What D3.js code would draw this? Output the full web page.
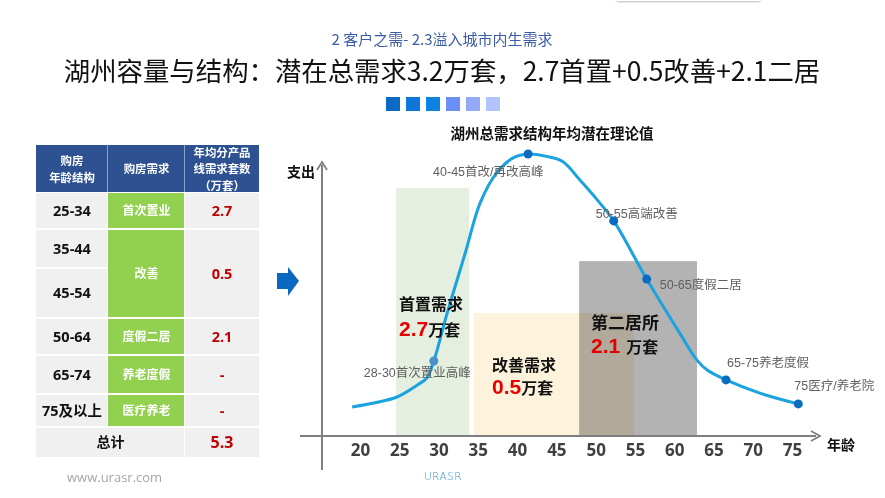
<!DOCTYPE html>
<html>
<head>
<meta charset="utf-8">
<script src="https://cdn.jsdelivr.net/npm/d3@7"></script>
<style>
	body { margin: 0; background: #fff; }
	svg { display: block; font-family: "Noto Sans CJK SC", "Noto Sans", sans-serif; }
</style>
</head>
<body>
<svg class="chart" width="885" height="498"></svg>
<script>
//curve data: age vs relative spending
let curveAges  = [19, 24.7, 27.3, 28.5, 29.4, 31.1, 33.4, 35.3, 37.4, 39.5, 41.4, 43.6, 45.8, 48.0, 50.2, 52.3, 56.5, 60.7, 62.9, 64.2, 66.6, 70.9, 75.8];
let curveSpend = [9.7, 13, 17, 19.3, 25, 41, 61, 77.7, 87.7, 92.7, 94, 93.3, 91.5, 85.3, 78.7, 71.7, 52.3, 34.3, 25.3, 22, 18.7, 14.3, 10.7];

//milestone dots
let milestoneAges   = [29.4, 41.4, 52.3, 56.5, 66.6, 75.8];
let milestoneSpend  = [25, 94, 71.7, 52.3, 18.7, 10.7];
let milestoneLabels = ["28-30首次置业高峰", "40-45首改/再改高峰", "50-55高端改善", "50-65度假二居", "65-75养老度假", "75医疗/养老院"];

//demand zones
let zoneNames  = ["首置需求", "改善需求", "第二居所"];
let zoneValues = ["2.7", "0.5", "2.1"];
let zoneFrom   = [24.6, 34.5, 47.9];
let zoneTo     = [33.9, 54.9, 62.9];
let zoneHeight = [82.7, 41, 58.3];

let xTicks = [20, 25, 30, 35, 40, 45, 50, 55, 60, 65, 70, 75];

//table
let tableHeaders = [["购房", "年龄结构"], ["购房需求"], ["年均分产品", "线需求套数", "（万套）"]];
let ageGroups    = ["25-34", "35-44", "45-54", "50-64", "65-74", "75及以上"];
let demandTypes  = ["首次置业", "改善", "度假二居", "养老度假", "医疗养老"];
let demandSpans  = [1, 2, 1, 1, 1];
let demandValues = ["2.7", "0.5", "2.1", "-", "-"];
let totalValue   = "5.3";

let svg = d3.select(".chart");

//top-right shadow tab
svg.append("defs").append("filter").attr("id", "sh")
	.append("feDropShadow").attr("dx", 0).attr("dy", 1).attr("stdDeviation", 1.2).attr("flood-color", "#888").attr("flood-opacity", 0.6);
svg.append("rect").attr("x", 617).attr("y", -12).attr("width", 143).attr("height", 13)
	.attr("fill", "#fff").attr("filter", "url(#sh)");

//headings
svg.append("text").attr("x", 442).attr("y", 40).attr("text-anchor", "middle").attr("dy", "0.35em")
	.style("font-size", "15px").style("fill", "#3c5ca6").text("2 客户之需- 2.3溢入城市内生需求");
svg.append("text").attr("x", 442).attr("y", 72).attr("text-anchor", "middle").attr("dy", "0.35em")
	.style("font-size", "26.4px").style("fill", "#111").text("湖州容量与结构：潜在总需求3.2万套，2.7首置+0.5改善+2.1二居");

let squareColors = ["#0b6ac3", "#0f78d6", "#0a84e0", "#6b8ff5", "#93a8f8", "#b0c4fb"];
svg.selectAll(".sq").data(squareColors).enter().append("rect")
	.attr("class", "sq")
	.attr("x", function(d, i) { return 386 + i * 20; })
	.attr("y", 97).attr("width", 14).attr("height", 14)
	.style("fill", function(d) { return d; });

//table
let colX = [36, 108, 185, 259];
let rowY = [145, 192, 229, 268, 318, 355, 394, 427, 457];
let t = svg.append("g").attr("class", "table");

t.append("rect").attr("x", colX[0]).attr("y", rowY[0]).attr("width", colX[3] - colX[0]).attr("height", rowY[1] - rowY[0])
	.style("fill", "#2e5192");
t.append("line").attr("x1", colX[1] - 0.5).attr("x2", colX[1] - 0.5).attr("y1", rowY[0]).attr("y2", rowY[1]).style("stroke", "#8aa0c8").style("stroke-width", 1);
t.append("line").attr("x1", colX[2] - 0.5).attr("x2", colX[2] - 0.5).attr("y1", rowY[0]).attr("y2", rowY[1]).style("stroke", "#8aa0c8").style("stroke-width", 1);

//multi-line header cells
let headerLineGap = 16.6;
tableHeaders.forEach(function(lines, c) {
	let cx = (colX[c] + colX[c + 1]) / 2;
	let cy = (rowY[0] + rowY[1]) / 2 + 1;
	let startY = cy - (lines.length - 1) * headerLineGap / 2;
	let cell = t.append("text").attr("text-anchor", "middle")
		.style("font-size", "11.4px").style("font-weight", "bold").style("fill", "#fff");
	lines.forEach(function(l, j) {
		cell.append("tspan").attr("x", cx).attr("y", startY + j * headerLineGap).attr("dy", "0.35em").text(l);
	});
});

//age column
ageGroups.forEach(function(a, i) {
	t.append("rect").attr("x", colX[0]).attr("y", rowY[i + 1] + 1).attr("width", colX[1] - colX[0] - 1).attr("height", rowY[i + 2] - rowY[i + 1] - 2)
		.style("fill", "#f0f0f0");
	t.append("text").attr("x", (colX[0] + colX[1]) / 2).attr("y", (rowY[i + 1] + rowY[i + 2]) / 2).attr("dy", "0.35em")
		.attr("text-anchor", "middle").style("font-family", "'Open Sans', 'Noto Sans CJK SC'").style("font-size", "14.5px").style("font-weight", "bold")
		.style("fill", "#111").text(a);
});

//demand + value columns (merged rows)
let r = 1;
demandTypes.forEach(function(d, i) {
	let y0 = rowY[r], y1 = rowY[r + demandSpans[i]];
	t.append("rect").attr("x", colX[1]).attr("y", y0 + 1).attr("width", colX[2] - colX[1] - 1).attr("height", y1 - y0 - 2)
		.style("fill", "#92d050");
	t.append("text").attr("x", (colX[1] + colX[2]) / 2).attr("y", (y0 + y1) / 2).attr("dy", "0.35em")
		.attr("text-anchor", "middle").style("font-size", "12px").style("font-weight", "bold").style("fill", "#fff").text(d);
	t.append("rect").attr("x", colX[2]).attr("y", y0 + 1).attr("width", colX[3] - colX[2]).attr("height", y1 - y0 - 2)
		.style("fill", "#f0f0f0");
	t.append("text").attr("x", (colX[2] + colX[3]) / 2).attr("y", (y0 + y1) / 2).attr("dy", "0.35em")
		.attr("text-anchor", "middle").style("font-family", "'Open Sans', sans-serif").style("font-size", "14.5px").style("font-weight", "bold")
		.style("fill", "#c00000").text(demandValues[i]);
	r += demandSpans[i];
});

//total row
t.append("rect").attr("x", colX[0]).attr("y", rowY[7] + 1).attr("width", colX[2] - colX[0] - 1).attr("height", rowY[8] - rowY[7] - 1)
	.style("fill", "#f0f0f0");
t.append("rect").attr("x", colX[2]).attr("y", rowY[7] + 1).attr("width", colX[3] - colX[2]).attr("height", rowY[8] - rowY[7] - 1)
	.style("fill", "#f0f0f0");
t.append("text").attr("x", (colX[0] + colX[2]) / 2).attr("y", (rowY[7] + rowY[8]) / 2).attr("dy", "0.35em")
	.attr("text-anchor", "middle").style("font-size", "14px").style("font-weight", "bold").style("fill", "#111").text("总计");
t.append("text").attr("x", (colX[2] + colX[3]) / 2).attr("y", (rowY[7] + rowY[8]) / 2).attr("dy", "0.35em")
	.attr("text-anchor", "middle").style("font-family", "'Open Sans', sans-serif").style("font-size", "16px").style("font-weight", "bold")
	.style("fill", "#c00000").text(totalValue);

//blue arrow
svg.append("path").attr("d", "M277,273 L288,273 L288,267 L299,281 L288,296 L288,289 L277,289 Z").style("fill", "#0a68c0");

//chart
let x = d3.scaleLinear().domain([20, 75]).range([360, 792]);
let y = d3.scaleLinear().domain([0, 100]).range([436, 136]);
let g = svg.append("g").attr("class", "curve-chart");

g.append("text").attr("x", 552).attr("y", 134).attr("dy", "0.35em").attr("text-anchor", "middle")
	.style("font-size", "14.5px").style("font-weight", "bold").style("fill", "#111").text("湖州总需求结构年均潜在理论值");

//zones
let zoneColors = ["#e4efdf", "#fdf3dc", "#b3b3b3"];
g.selectAll(".zone").data(zoneNames).enter().append("rect")
	.attr("class", "zone")
	.attr("x", function(d, i) { return x(zoneFrom[i]); })
	.attr("y", function(d, i) { return y(zoneHeight[i]); })
	.attr("width", function(d, i) { return x(zoneTo[i]) - x(zoneFrom[i]); })
	.attr("height", function(d, i) { return y(0.3) - y(zoneHeight[i]); })
	.style("fill", function(d, i) { return zoneColors[i]; })
	.style("mix-blend-mode", function(d, i) { return i === 2 ? "multiply" : null; });

//axes
let axisColor = "#7f7f7f";
let ax = g.append("g").attr("class", "axes");
ax.append("line").attr("x1", 300).attr("x2", 816).attr("y1", y(0)).attr("y2", y(0)).style("stroke", axisColor).style("stroke-width", 2);
ax.append("path").attr("d", "M811," + (y(0) - 5) + " L820," + y(0) + " L811," + (y(0) + 5)).style("fill", "none").style("stroke", axisColor).style("stroke-width", 1.8);
ax.append("line").attr("x1", 322).attr("x2", 322).attr("y1", 470).attr("y2", 165).style("stroke", axisColor).style("stroke-width", 2);
ax.append("path").attr("d", "M317,170 L322,162 L327,170").style("fill", "none").style("stroke", axisColor).style("stroke-width", 1.8);

let xAxis = g.append("g").attr("class", "x-axis").attr("transform", "translate(0," + y(0) + ")")
	.call(d3.axisBottom(x).tickValues(xTicks).tickSize(0).tickPadding(8));
xAxis.select(".domain").remove();
xAxis.selectAll("text").style("font-family", "'Open Sans', sans-serif").style("font-size", "17px")
	.style("font-weight", "bold").style("fill", "#404040");

g.append("text").attr("x", 287).attr("y", 172).attr("dy", "0.35em").style("font-size", "14px").style("font-weight", "bold").style("fill", "#111").text("支出");
g.append("text").attr("x", 827).attr("y", 445).attr("dy", "0.35em").style("font-size", "14px").style("font-weight", "bold").style("fill", "#111").text("年龄");

//curve
let line = d3.line().x(function(d, i) { return x(curveAges[i]); }).y(function(d) { return y(d); })
	.curve(d3.curveCatmullRom.alpha(0.5));
g.append("path").datum(curveSpend).attr("d", line)
	.style("fill", "none").style("stroke", "#1ba3e0").style("stroke-width", 3);

//milestones
let labelOffset = [[-70, 12], [-95, 18], [-18, -7], [13, 6], [1, -17], [-4, -18]];
g.selectAll(".dot").data(milestoneSpend).enter().append("circle")
	.attr("class", "dot")
	.attr("cx", function(d, i) { return x(milestoneAges[i]); })
	.attr("cy", function(d) { return y(d); })
	.attr("r", 4.5)
	.style("fill", function(d, i) { return i === 0 ? "#4a8fc8" : "#0a6cc0"; });
g.selectAll(".mlabel").data(milestoneLabels).enter().append("text")
	.attr("class", "mlabel")
	.attr("x", function(d, i) { return x(milestoneAges[i]) + labelOffset[i][0]; })
	.attr("y", function(d, i) { return y(milestoneSpend[i]) + labelOffset[i][1]; })
	.attr("dy", "0.35em")
	.style("font-family", "'Liberation Sans', 'Noto Sans CJK SC'").style("font-size", "12.5px").style("fill", "#5f5f5f")
	.text(function(d) { return d; });

//zone labels
let zoneLabelPos = [[399, 304, 330], [492, 365, 388], [591, 323, 347]];
let zoneNameSize = [16, 16, 17];
zoneNames.forEach(function(n, i) {
	let p = zoneLabelPos[i];
	g.append("text").attr("x", p[0]).attr("y", p[1]).attr("dy", "0.35em")
		.style("font-size", zoneNameSize[i] + "px").style("font-weight", "bold").style("fill", "#111").text(n);
	let v = g.append("text").attr("x", p[0]).attr("y", p[2]).attr("dy", "0.35em").style("font-weight", "bold");
	v.append("tspan").style("font-family", "'Liberation Sans', sans-serif").style("font-size", "21px").style("fill", "#e60000").text(zoneValues[i]);
	v.append("tspan").attr("dx", i === 2 ? 6 : 0).style("font-size", "16px").style("fill", "#111").text("万套");
});

//footer
svg.append("text").attr("x", 67).attr("y", 477).attr("dy", "0.35em")
	.style("font-family", "'Open Sans', sans-serif").style("font-size", "13px").style("fill", "#a6a6a6").text("www.urasr.com");
svg.append("text").attr("x", 443).attr("y", 476).attr("dy", "0.35em").attr("text-anchor", "middle")
	.style("font-family", "'DejaVu Sans', sans-serif").style("font-size", "10.5px").style("font-weight", "200")
	.style("letter-spacing", "0.5px").style("fill", "#3a9ad6").text("URASR");
</script>
</body>
</html>
